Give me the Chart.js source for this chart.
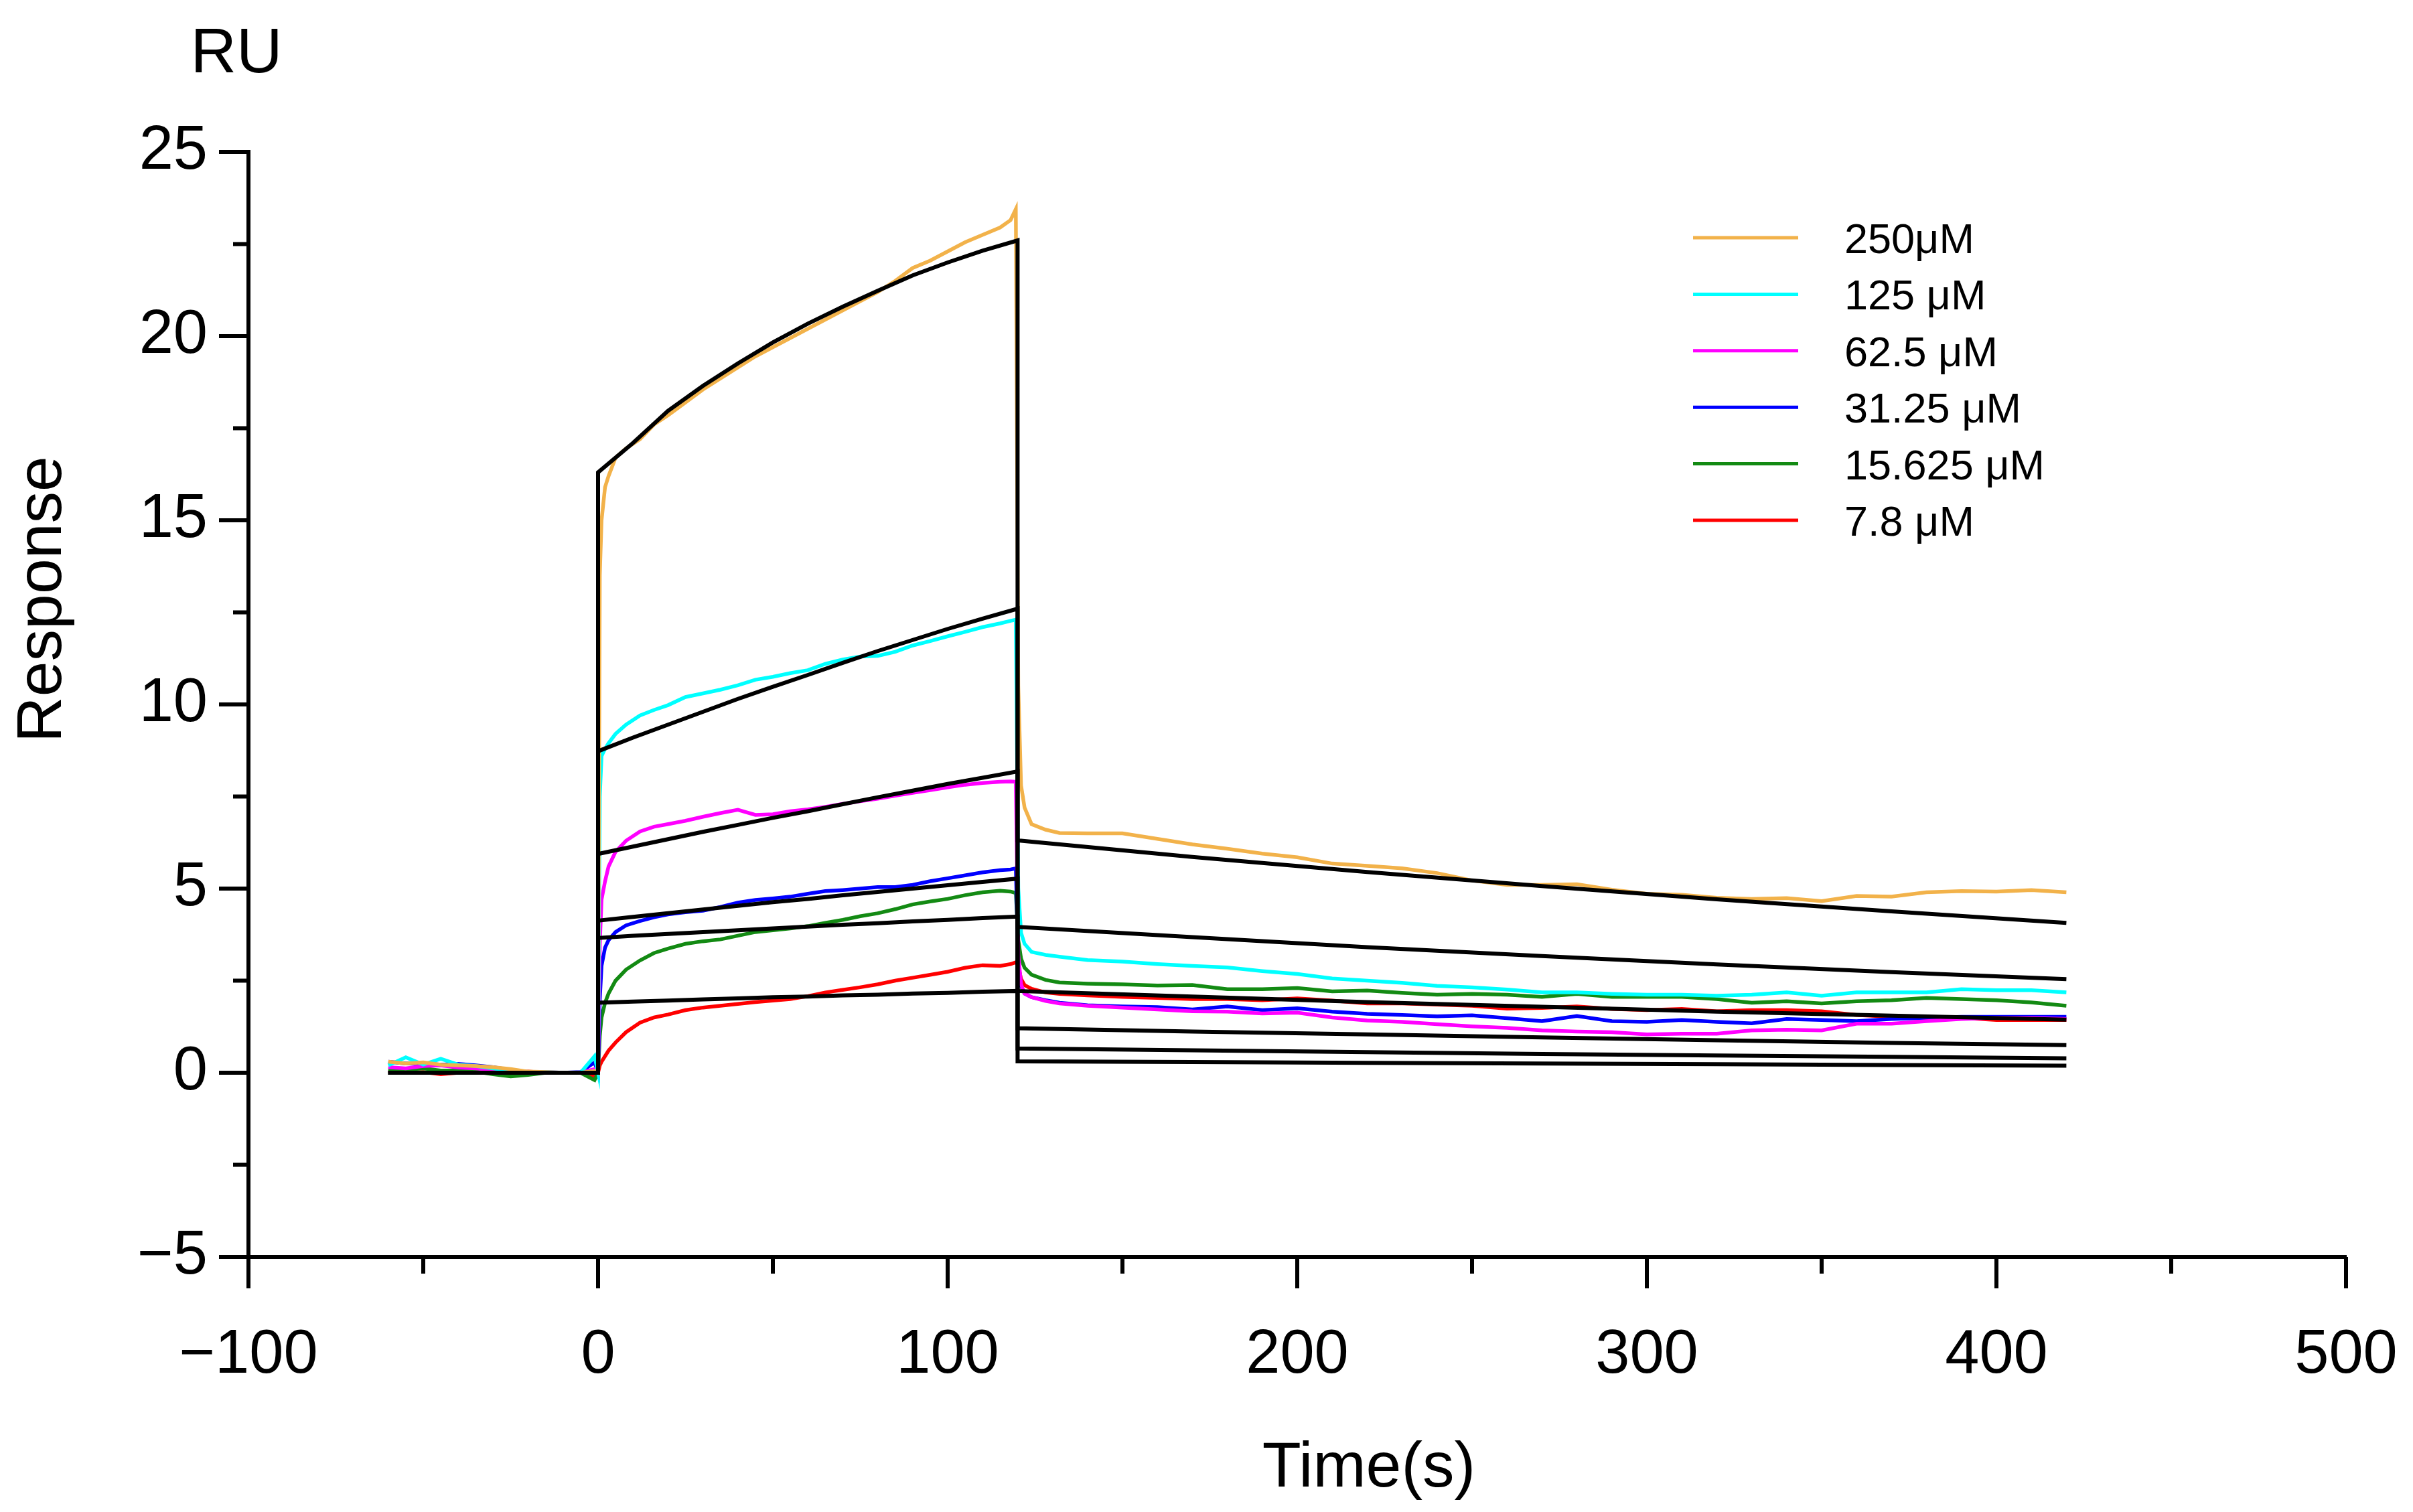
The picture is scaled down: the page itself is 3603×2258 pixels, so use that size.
<!DOCTYPE html>
<html>
<head>
<meta charset="utf-8">
<script src="https://cdn.jsdelivr.net/npm/chart.js@4.4.0/dist/chart.umd.min.js"></script>
<style>
  html, body { margin: 0; padding: 0; background: #ffffff; }
  #wrap { width: 3603px; height: 2258px; position: relative; }
</style>
</head>
<body>
<div id="wrap"><canvas id="sensorgram"></canvas></div>
<script>
// sample times (s): baseline, association, dissociation
const time = [
  -60, -55, -50, -45, -40, -35, -30, -25, -20, -15, -10, -5, -1, 0,
  0.5, 1, 2, 3, 5, 8, 12, 16, 20, 25, 30, 35, 40, 45, 50, 55, 60, 65, 70, 75,
  80, 85, 90, 95, 100, 105, 110, 115, 118, 119.5,
  120.2, 121, 122, 124, 128, 132, 140, 150, 160, 170, 180, 190, 200, 210, 220,
  230, 240, 250, 260, 270, 280, 290, 300, 310, 320, 330, 340, 350, 360, 370,
  380, 390, 400, 410, 420
];

const concLabels = ["250μM", "125 μM", "62.5 μM", "31.25 μM", "15.625 μM", "7.8 μM"];
const concColors = ["#F2B24A", "#00FFFF", "#FF00FF", "#0000FF", "#138A13", "#FF0000"];

const resp250 = [
  0.3, 0.25, 0.28, 0.22, 0.2, 0.18, 0.15, 0.1, 0.03, 0.02, 0, 0, 0.05, 0,
  13.5, 15.0, 15.9, 16.2, 16.7, 16.95, 17.2, 17.6, 17.85, 18.2, 18.55, 18.85, 19.15, 19.45, 19.7, 19.95,
  20.2, 20.45, 20.7, 20.95, 21.2, 21.5, 21.85, 22.05, 22.3, 22.55, 22.75, 22.95, 23.15, 23.45,
  10.5, 7.8, 7.2, 6.75, 6.6, 6.51, 6.5, 6.5, 6.35, 6.2, 6.08, 5.95, 5.85, 5.68, 5.62, 5.55,
  5.42, 5.22, 5.1, 5.1, 5.12, 4.97, 4.86, 4.83, 4.75, 4.72, 4.74, 4.66, 4.8, 4.78, 4.9, 4.93,
  4.92, 4.96, 4.9
];
const resp125 = [
  0.2, 0.42, 0.22, 0.38, 0.22, 0.18, 0.12, 0.06, 0.02, 0.02, 0, 0, 0.45, 0,
  7.5, 8.6, 8.8, 8.95, 9.2, 9.45, 9.7, 9.85, 9.98, 10.2, 10.3, 10.4, 10.52, 10.67, 10.75, 10.85,
  10.93, 11.1, 11.22, 11.3, 11.32, 11.43, 11.6, 11.72, 11.85, 11.97, 12.1, 12.2, 12.27, 12.3,
  5.0, 3.8, 3.5, 3.28, 3.2, 3.15, 3.06, 3.02, 2.95, 2.9, 2.86, 2.76, 2.68, 2.56, 2.5, 2.44,
  2.36, 2.32, 2.26, 2.18, 2.18, 2.14, 2.12, 2.12, 2.09, 2.12, 2.18, 2.09, 2.18, 2.18, 2.18, 2.27,
  2.24, 2.24, 2.18
];
const resp62 = [
  0.15, 0.12, 0.18, 0.2, 0.14, 0.12, 0.08, 0.04, 0, 0.02, 0, 0, 0.1, 0,
  3.5, 4.7, 5.2, 5.6, 6.0, 6.3, 6.55, 6.68, 6.75, 6.84, 6.95, 7.05, 7.14, 7.0, 7.02, 7.1,
  7.15, 7.22, 7.3, 7.37, 7.44, 7.52, 7.6, 7.67, 7.75, 7.82, 7.87, 7.9, 7.91, 7.9,
  3.2, 2.4, 2.15, 2.05, 1.95, 1.88, 1.82, 1.77, 1.72, 1.67, 1.66, 1.61, 1.63, 1.5, 1.42, 1.38,
  1.32, 1.26, 1.22, 1.15, 1.12, 1.1, 1.04, 1.06, 1.06, 1.15, 1.17, 1.15, 1.33, 1.33, 1.4, 1.46,
  1.49, 1.49, 1.46
];
const resp31 = [
  0.3, 0.25, 0.26, 0.22, 0.24, 0.2, 0.15, 0.08, 0.02, 0, 0, 0.02, 0.28, 0,
  2.0, 2.9, 3.4, 3.6, 3.82, 4.0, 4.12, 4.22, 4.3, 4.36, 4.4, 4.5, 4.62, 4.69, 4.73, 4.78,
  4.86, 4.93, 4.96, 5.0, 5.04, 5.04, 5.1, 5.2, 5.28, 5.36, 5.44, 5.5, 5.52, 5.55,
  3.0, 2.35, 2.15, 2.05, 1.97, 1.9, 1.83, 1.8, 1.78, 1.72, 1.8, 1.7, 1.75, 1.66, 1.6, 1.57,
  1.53, 1.56, 1.48, 1.4, 1.54, 1.4, 1.38, 1.43, 1.38, 1.34, 1.46, 1.43, 1.4, 1.46, 1.49, 1.52,
  1.52, 1.52, 1.52
];
const resp15 = [
  0.1, 0.08, 0.12, 0.06, 0.06, 0.03, -0.04, -0.1, -0.06, 0, 0, 0, -0.2, 0,
  1.0, 1.5, 1.9, 2.15, 2.5, 2.8, 3.05, 3.25, 3.37, 3.5, 3.57, 3.62, 3.72, 3.82, 3.87, 3.92,
  3.98, 4.07, 4.15, 4.25, 4.33, 4.44, 4.57, 4.65, 4.72, 4.82, 4.9, 4.94, 4.92, 4.88,
  3.6, 3.1, 2.85, 2.66, 2.52, 2.45, 2.42, 2.4, 2.37, 2.38, 2.27, 2.27, 2.3, 2.21, 2.23, 2.17,
  2.12, 2.14, 2.12, 2.06, 2.14, 2.06, 2.06, 2.06, 2.0, 1.9, 1.94, 1.88, 1.94, 1.97, 2.03, 2.0,
  1.97, 1.91, 1.82
];
const resp7 = [
  0.05, 0, 0.02, -0.04, 0, 0.02, -0.02, 0, 0.03, 0, 0, 0, -0.1, 0,
  0.2, 0.3, 0.45, 0.6, 0.82, 1.1, 1.36, 1.5, 1.58, 1.7, 1.77, 1.82, 1.87, 1.92, 1.96, 2.0,
  2.08, 2.18, 2.25, 2.32, 2.4, 2.5, 2.58, 2.66, 2.74, 2.85, 2.92, 2.9, 2.95, 3.0,
  2.9, 2.55, 2.38, 2.28, 2.18, 2.14, 2.1, 2.06, 2.03, 2.0, 2.0, 1.97, 2.02, 1.96, 1.88, 1.88,
  1.85, 1.82, 1.74, 1.76, 1.8, 1.73, 1.7, 1.73, 1.67, 1.7, 1.7, 1.67, 1.57, 1.52, 1.46, 1.49,
  1.43, 1.43, 1.43
];

// fitted curves (black)
const fitTime = [-60, 0, 0, 10, 20, 30, 40, 50, 60, 70, 80, 90, 100, 110, 120, 120, 170, 220, 270, 320, 370, 420];
const fit250 = [0, 0, 16.3, 17.1, 17.97, 18.65, 19.26, 19.83, 20.34, 20.8, 21.23, 21.65, 22.0, 22.32, 22.6, 6.31, 5.86, 5.45, 5.07, 4.71, 4.38, 4.07];
const fit125 = [0, 0, 8.73, 9.1, 9.45, 9.8, 10.15, 10.48, 10.8, 11.13, 11.45, 11.75, 12.05, 12.33, 12.6, 3.96, 3.68, 3.41, 3.17, 2.94, 2.73, 2.54];
const fit62 = [0, 0, 5.94, 6.14, 6.34, 6.54, 6.73, 6.92, 7.1, 7.29, 7.48, 7.66, 7.84, 8.01, 8.18, 2.22, 2.07, 1.92, 1.79, 1.66, 1.55, 1.44];
const fit31 = [0, 0, 4.13, 4.23, 4.33, 4.43, 4.53, 4.63, 4.72, 4.82, 4.91, 5.0, 5.09, 5.18, 5.27, 1.21, 1.12, 1.04, 0.96, 0.88, 0.81, 0.75];
const fit15 = [0, 0, 3.66, 3.72, 3.77, 3.82, 3.87, 3.92, 3.97, 4.02, 4.06, 4.11, 4.15, 4.2, 4.24, 0.66, 0.61, 0.56, 0.51, 0.47, 0.43, 0.39];
const fit7 = [0, 0, 1.9, 1.93, 1.96, 1.99, 2.02, 2.05, 2.07, 2.1, 2.12, 2.15, 2.17, 2.2, 2.22, 0.31, 0.29, 0.27, 0.25, 0.23, 0.21, 0.19];

const xMajorTicks = [-100, 0, 100, 200, 300, 400, 500];
const xMinorTicks = [-50, 50, 150, 250, 350, 450];
const yMajorTicks = [-5, 0, 5, 10, 15, 20, 25];
const yMinorTicks = [-2.5, 2.5, 7.5, 12.5, 17.5, 22.5];

const FONT = "'Liberation Sans', Arial, sans-serif";

function toPoints(xs, ys) {
  return xs.map((x, i) => ({ x: x, y: ys[i] }));
}

function fmtTick(v) {
  return v < 0 ? "\u2212" + Math.abs(v) : String(v);
}

const responses = [resp250, resp125, resp62, resp31, resp15, resp7];
const fits = [fit250, fit125, fit62, fit31, fit15, fit7];

let datasets = [];
fits.forEach((f, i) => {
  datasets.push({
    label: "fit " + concLabels[i],
    data: toPoints(fitTime, f),
    borderColor: "#000000",
    borderWidth: 6,
    order: 0,
  });
});
responses.forEach((r, i) => {
  datasets.push({
    label: concLabels[i],
    data: toPoints(time, r),
    borderColor: concColors[i],
    borderWidth: 5.5,
    order: 1,
  });
});

// tick marks, axis titles and legend
const decorations = {
  id: "decorations",
  afterDraw(chart) {
    const ctx = chart.ctx;
    const xs = chart.scales.x;
    const ys = chart.scales.y;
    const area = chart.chartArea;
    ctx.save();
    ctx.strokeStyle = "#000";
    ctx.lineWidth = 6;
    ctx.beginPath();
    xMajorTicks.forEach((t) => {
      const px = xs.getPixelForValue(t);
      ctx.moveTo(px, area.bottom);
      ctx.lineTo(px, area.bottom + 47);
    });
    xMinorTicks.forEach((t) => {
      const px = xs.getPixelForValue(t);
      ctx.moveTo(px, area.bottom);
      ctx.lineTo(px, area.bottom + 25);
    });
    yMajorTicks.forEach((t) => {
      const py = ys.getPixelForValue(t);
      ctx.moveTo(area.left, py);
      ctx.lineTo(area.left - 44, py);
    });
    yMinorTicks.forEach((t) => {
      const py = ys.getPixelForValue(t);
      ctx.moveTo(area.left, py);
      ctx.lineTo(area.left - 23, py);
    });
    ctx.stroke();

    ctx.fillStyle = "#000";
    ctx.font = "95px " + FONT;
    ctx.textAlign = "center";
    ctx.textBaseline = "alphabetic";
    ctx.fillText("Time(s)", 2044, 2220);
    ctx.fillText("RU", 353, 108);
    ctx.save();
    ctx.translate(91, 895);
    ctx.rotate(-Math.PI / 2);
    ctx.fillText("Response", 0, 0);
    ctx.restore();

    ctx.font = "63px " + FONT;
    ctx.textAlign = "left";
    concLabels.forEach((lab, i) => {
      const y = 355 + i * 84.4;
      ctx.strokeStyle = concColors[i];
      ctx.lineWidth = 5;
      ctx.beginPath();
      ctx.moveTo(2528, y);
      ctx.lineTo(2685, y);
      ctx.stroke();
      ctx.fillText(lab, 2754, y + 23);
    });
    ctx.restore();
  },
};

new Chart(document.querySelector("#sensorgram"), {
  type: "line",
  data: { datasets: datasets },
  options: {
    responsive: true,
    maintainAspectRatio: false,
    devicePixelRatio: 1,
    animation: false,
    layout: { padding: { top: 227, right: 100, left: 0, bottom: 0 } },
    elements: {
      point: { radius: 0 },
      line: { tension: 0, fill: false, borderJoinStyle: "miter" },
    },
    plugins: {
      legend: { display: false },
      tooltip: { enabled: false },
    },
    scales: {
      x: {
        type: "linear",
        min: -100,
        max: 500,
        afterFit: (scale) => {
          scale.height = 381;
          scale.paddingLeft = 0;
          scale.paddingRight = 0;
        },
        afterBuildTicks: (scale) => { scale.ticks = xMajorTicks.map((v) => ({ value: v })); },
        border: { display: true, color: "#000", width: 6 },
        grid: { display: true, drawOnChartArea: false, drawTicks: false },
        ticks: {
          color: "#000",
          font: { family: FONT, size: 92 },
          padding: 92,
          maxRotation: 0,
          autoSkip: false,
          callback: fmtTick,
        },
      },
      y: {
        type: "linear",
        min: -5,
        max: 25,
        afterFit: (scale) => { scale.width = 371; },
        afterBuildTicks: (scale) => { scale.ticks = yMajorTicks.map((v) => ({ value: v })); },
        border: { display: true, color: "#000", width: 6 },
        grid: { display: true, drawOnChartArea: false, drawTicks: false },
        ticks: {
          color: "#000",
          font: { family: FONT, size: 92 },
          padding: 61,
          autoSkip: false,
          callback: fmtTick,
        },
      },
    },
  },
  plugins: [decorations],
});
</script>
</body>
</html>
